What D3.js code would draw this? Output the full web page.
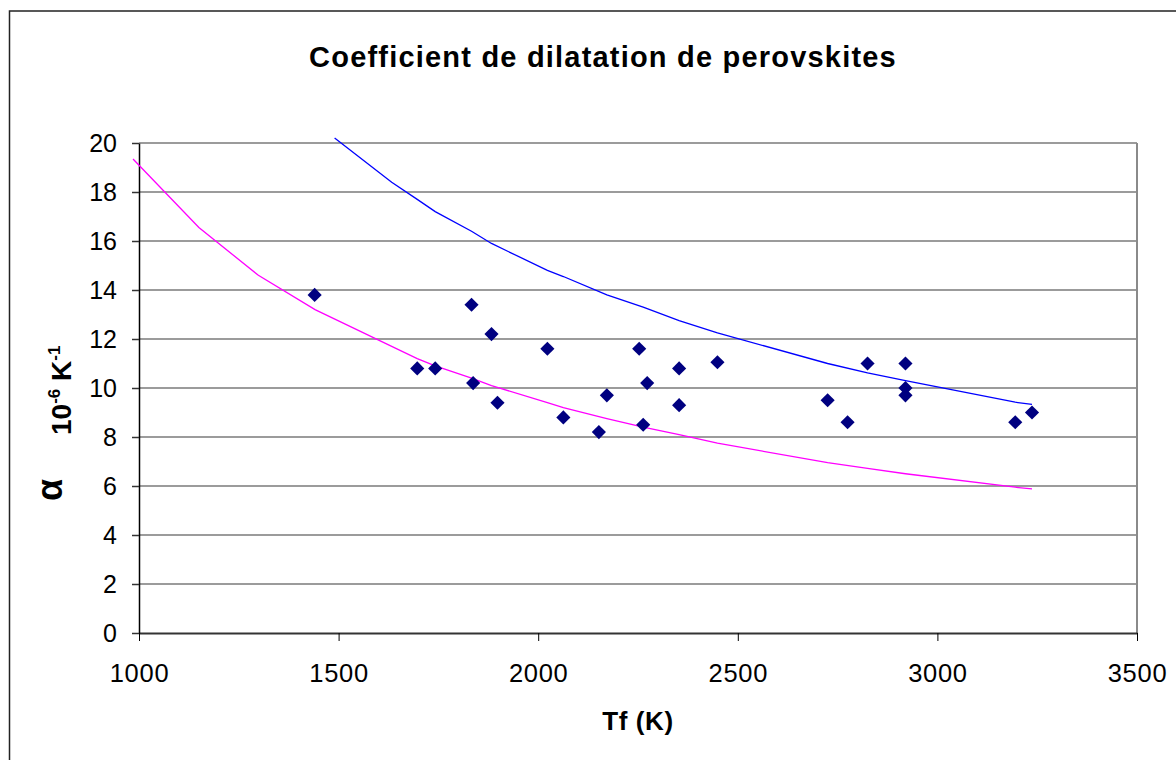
<!DOCTYPE html>
<html>
<head>
<meta charset="utf-8">
<script src="https://cdn.jsdelivr.net/npm/d3@7"></script>
<style>
  html, body { margin: 0; padding: 0; background: #fff; }
  svg { display: block; }
  text { font-family: Arial, "Liberation Sans", sans-serif; fill: #000; }
</style>
</head>
<body>
<script>
// ---- data ----
const pointsTf    = [1440, 1697, 1742, 1833, 1837, 1883, 1898, 2023, 2063, 2152, 2172, 2253, 2263, 2273, 2353, 2353, 2449, 2725, 2775, 2825, 2920, 2920, 2920, 3195, 3237];
const pointsAlpha = [13.8, 10.8, 10.8, 13.4, 10.2, 12.2, 9.4, 11.6, 8.8, 8.2, 9.7, 11.6, 8.5, 10.2, 10.8, 9.3, 11.05, 9.5, 8.6, 11.0, 11.0, 10.0, 9.7, 8.6, 9.0];

const blueTf    = [1490, 1633, 1697, 1742, 1833, 1883, 2023, 2063, 2172, 2263, 2353, 2449, 2725, 2825, 2920, 3195, 3237];
const blueAlpha = [20.2, 18.4, 17.7, 17.2, 16.4, 15.9, 14.8, 14.55, 13.8, 13.3, 12.75, 12.25, 11.0, 10.62, 10.3, 9.42, 9.33];

const pinkTf    = [985, 1150, 1299, 1441, 1697, 1742, 1833, 1883, 2023, 2063, 2172, 2263, 2353, 2449, 2725, 2825, 2920, 3195, 3237];
const pinkAlpha = [19.35, 16.55, 14.6, 13.2, 11.2, 10.9, 10.4, 10.1, 9.4, 9.2, 8.75, 8.4, 8.1, 7.75, 6.95, 6.72, 6.5, 5.95, 5.88];

const xTicks = [1000, 1500, 2000, 2500, 3000, 3500];
const yTicks = [0, 2, 4, 6, 8, 10, 12, 14, 16, 18, 20];

const titleText = "Coefficient de dilatation de perovskites";
const xLabel = "Tf (K)";

// ---- drawing ----
const W = 1176, H = 760;
const svg = d3.select("body").append("svg").attr("width", W).attr("height", H);

// outer chart frame (runs off the right and bottom edges)
svg.append("rect")
  .attr("x", 9.5).attr("y", 11).attr("width", 1200).attr("height", 800)
  .attr("fill", "#fff").attr("stroke", "#222").attr("stroke-width", 1.5);

const x = d3.scaleLinear().domain([1000, 3500]).range([139, 1137]);
const y = d3.scaleLinear().domain([0, 20]).range([633, 143]);

// gridlines
svg.append("g").selectAll("line").data(yTicks.filter(d => d > 0)).join("line")
  .attr("x1", x(1000)).attr("x2", x(3500))
  .attr("y1", d => y(d)).attr("y2", d => y(d))
  .attr("stroke", "#7a7a7a").attr("stroke-width", 1.6);

// right border of plot area
svg.append("line")
  .attr("x1", x(3500)).attr("x2", x(3500)).attr("y1", y(20)).attr("y2", y(0))
  .attr("stroke", "#8a8a8a").attr("stroke-width", 2);

// x axis
const gx = svg.append("g").attr("transform", `translate(0,${y(0)})`)
  .call(d3.axisBottom(x).tickValues(xTicks).tickFormat(d3.format("d")).tickSize(8).tickSizeOuter(0));
gx.select(".domain").attr("stroke", "#333").attr("stroke-width", 2);
gx.selectAll(".tick line").attr("stroke", "#000").attr("stroke-width", 1);
gx.selectAll(".tick text")
  .attr("y", 48.5).attr("dy", 0)
  .style("font-size", "25.5px").style("letter-spacing", "0.7px")
  .attr("fill", "#000");

// y axis
const gy = svg.append("g").attr("transform", `translate(${x(1000)},0)`)
  .call(d3.axisLeft(y).tickValues(yTicks).tickFormat(d3.format("d")).tickSize(7).tickSizeOuter(0));
gy.select(".domain").attr("stroke", "#000").attr("stroke-width", 1.5);
gy.selectAll(".tick line").attr("stroke", "#333").attr("stroke-width", 1.5);
gy.selectAll(".tick text")
  .attr("x", -22).attr("dy", 0).attr("y", 8.7)
  .style("font-size", "25px")
  .attr("fill", "#000");

// curves
const line = d3.line().x(d => x(d[0])).y(d => y(d[1]));
svg.append("path")
  .datum(d3.zip(pinkTf, pinkAlpha))
  .attr("d", line).attr("fill", "none").attr("stroke", "#ff00ff").attr("stroke-width", 1.3);
svg.append("path")
  .datum(d3.zip(blueTf, blueAlpha))
  .attr("d", line).attr("fill", "none").attr("stroke", "#0000ff").attr("stroke-width", 1.3);

// points (diamonds)
const diamond = d3.symbol().type(d3.symbolSquare).size(100);
svg.append("g").selectAll("path").data(d3.zip(pointsTf, pointsAlpha)).join("path")
  .attr("d", diamond)
  .attr("transform", d => `translate(${x(d[0])},${y(d[1])}) rotate(45)`)
  .attr("fill", "#000080");

// title
svg.append("text")
  .attr("x", 603).attr("y", 66.5).attr("text-anchor", "middle")
  .style("font-size", "29px").style("font-weight", "bold").style("letter-spacing", "1.2px")
  .text(titleText);

// x label
svg.append("text")
  .attr("x", 638).attr("y", 729.5).attr("text-anchor", "middle")
  .style("font-size", "26px").style("font-weight", "bold").style("letter-spacing", "0.6px")
  .text(xLabel);

// y label: alpha
svg.append("text")
  .attr("transform", "translate(61.5,490) rotate(-90)")
  .attr("text-anchor", "middle")
  .style("font-size", "36px").style("font-weight", "bold")
  .text("α");

// y label: 10^-6 K^-1
const yl = svg.append("text")
  .attr("transform", "translate(70.5,435) rotate(-90)")
  .attr("text-anchor", "start")
  .style("font-size", "28px").style("font-weight", "bold");
yl.append("tspan").text("10");
yl.append("tspan").attr("dy", -11).style("font-size", "17px").text("-6");
yl.append("tspan").attr("dy", 11).text(" K");
yl.append("tspan").attr("dy", -11).style("font-size", "17px").text("-1");
</script>
</body>
</html>
